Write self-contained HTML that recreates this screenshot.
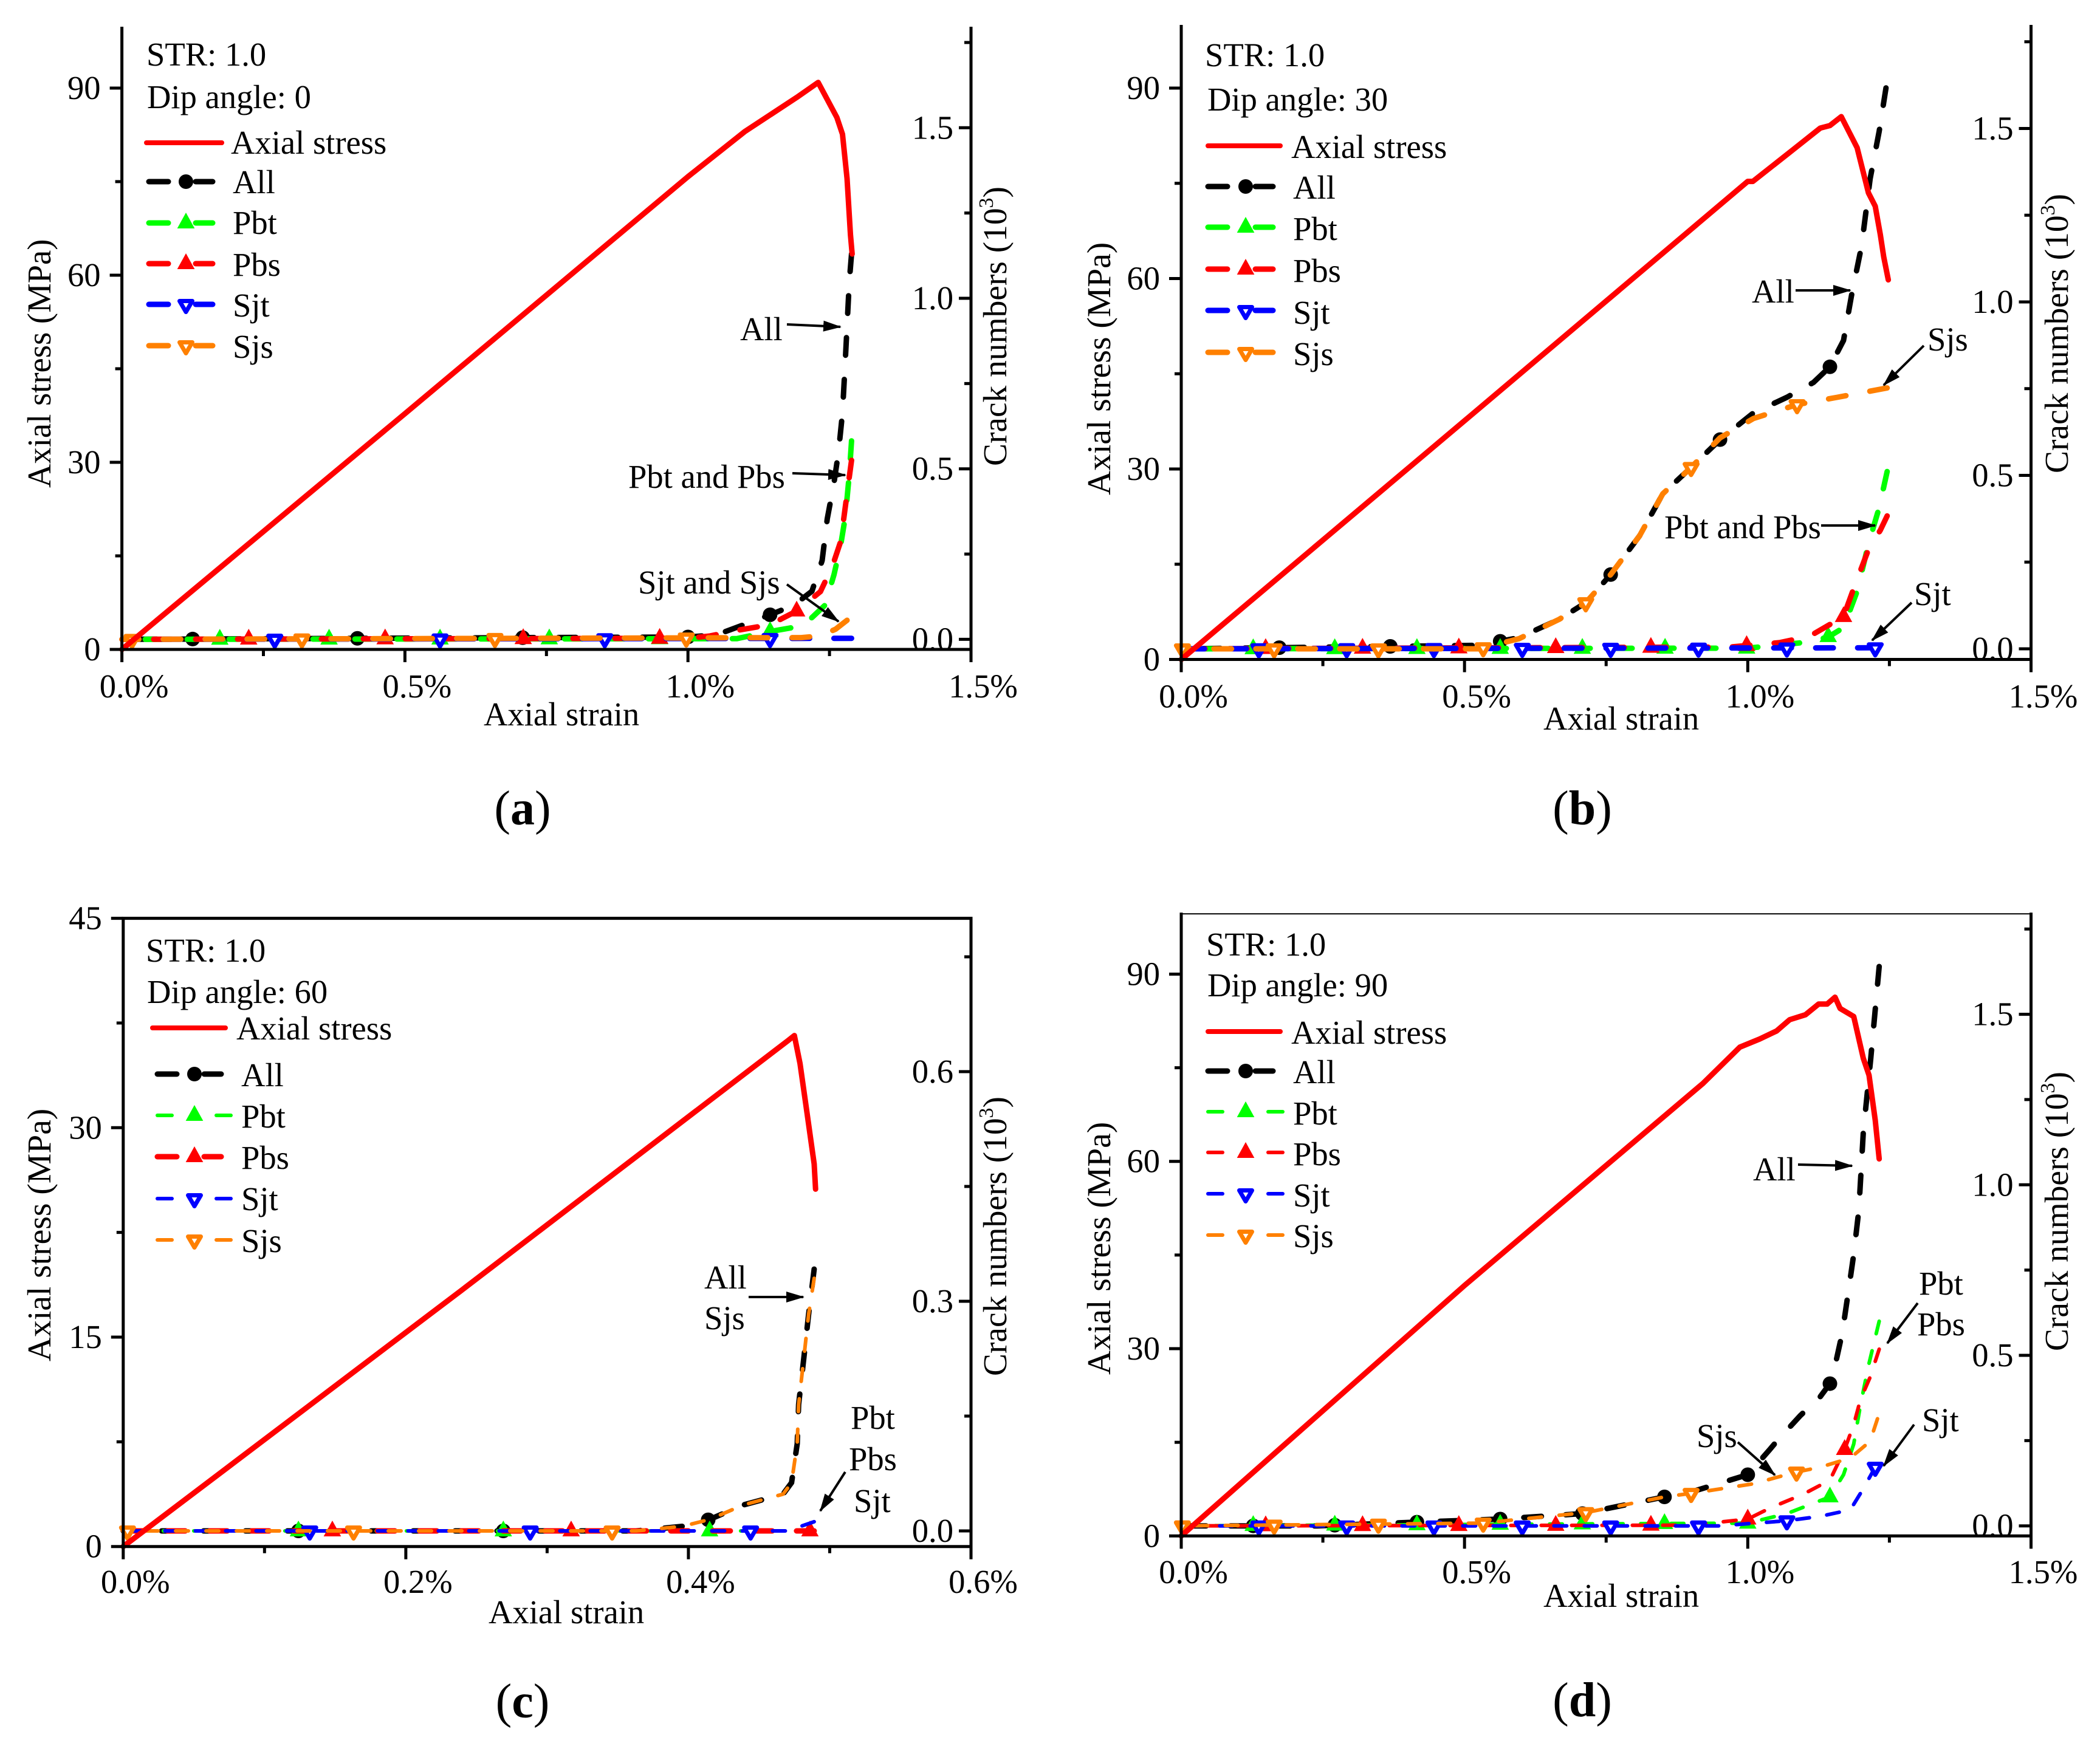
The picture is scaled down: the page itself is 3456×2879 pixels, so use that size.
<!DOCTYPE html>
<html lang="en">
<head>
<meta charset="utf-8">
<title>Axial stress and crack numbers versus axial strain</title>
<style>
html,body{margin:0;padding:0;background:#fff}
svg{display:block}
text{font-family:"Liberation Serif",serif;font-size:54.6px;fill:#000}
.letter{font-size:80px}
.letter .b{font-weight:bold}
.lt{font-size:55.5px}
.rt{font-size:55.4px}
.ann{stroke:#000;stroke-width:4;fill:none;marker-end:url(#arrow-head)}
</style>
</head>
<body>
<svg id="chart" xmlns="http://www.w3.org/2000/svg" width="3456" height="2879" viewBox="0 0 3456 2879">
<defs>
<marker id="arrow-head" markerUnits="userSpaceOnUse" markerWidth="32" markerHeight="20" refX="28" refY="9" orient="auto"><path d="M0 0L30 9L0 18Z" fill="#000"/></marker>
</defs>
<rect width="3456" height="2879" fill="#fff"/>
<g id="plots"></g>

<g>
<text x="241" y="108">STR: 1.0</text>
<text x="242" y="178">Dip angle: 0</text>
<text x="380" y="253">Axial stress</text>
<text x="383" y="318">All</text>
<text x="383" y="385">Pbt</text>
<text x="383" y="454">Pbs</text>
<text x="383" y="521">Sjt</text>
<text x="383" y="589">Sjs</text>
<text x="796" y="1194">Axial strain</text>
<text transform="translate(83,803) rotate(-90)">Axial stress (MPa)</text>
<text class="rt" transform="translate(1656,767) rotate(-90)">Crack numbers (10<tspan font-size="34" dy="-22">3</tspan><tspan dy="22">)</tspan></text>
<text class="letter" x="860" y="1357" text-anchor="middle">(<tspan class="b">a</tspan>)</text>
<text x="1218" y="560">All</text>
<line class="ann" x1="1295" y1="534" x2="1383" y2="538"/>
<text x="1034" y="803">Pbt and Pbs</text>
<line class="ann" x1="1304" y1="779" x2="1391" y2="782"/>
<text x="1050" y="977">Sjt and Sjs</text>
<line class="ann" x1="1295" y1="962" x2="1380" y2="1023"/>
</g>

<g>
<text x="1983" y="109">STR: 1.0</text>
<text x="1987" y="182">Dip angle: 30</text>
<text x="2125" y="260">Axial stress</text>
<text x="2128" y="327">All</text>
<text x="2128" y="395">Pbt</text>
<text x="2128" y="464">Pbs</text>
<text x="2128" y="533">Sjt</text>
<text x="2128" y="601">Sjs</text>
<text x="2540" y="1201">Axial strain</text>
<text class="lt" transform="translate(1827,815) rotate(-90)">Axial stress (MPa)</text>
<text class="rt" transform="translate(3403,779) rotate(-90)">Crack numbers (10<tspan font-size="34" dy="-22">3</tspan><tspan dy="22">)</tspan></text>
<text class="letter" x="2604" y="1357" text-anchor="middle">(<tspan class="b">b</tspan>)</text>
<text x="2883" y="498">All</text>
<line class="ann" x1="2955" y1="478" x2="3045" y2="478"/>
<text x="3172" y="577">Sjs</text>
<line class="ann" x1="3166" y1="569" x2="3100" y2="634"/>
<text x="2739" y="886">Pbt and Pbs</text>
<line class="ann" x1="2997" y1="865" x2="3086" y2="865"/>
<text x="3150" y="996">Sjt</text>
<line class="ann" x1="3146" y1="992" x2="3081" y2="1054"/>
</g>

<g>
<text x="240" y="1583">STR: 1.0</text>
<text x="242" y="1651">Dip angle: 60</text>
<text x="389" y="1711">Axial stress</text>
<text x="397" y="1788">All</text>
<text x="397" y="1856">Pbt</text>
<text x="397" y="1924">Pbs</text>
<text x="397" y="1992">Sjt</text>
<text x="397" y="2061">Sjs</text>
<text x="804" y="2672">Axial strain</text>
<text class="lt" transform="translate(83,2241) rotate(-90)">Axial stress (MPa)</text>
<text class="rt" transform="translate(1656,2265) rotate(-90)">Crack numbers (10<tspan font-size="34" dy="-22">3</tspan><tspan dy="22">)</tspan></text>
<text class="letter" x="860" y="2827" text-anchor="middle">(<tspan class="b">c</tspan>)</text>
<text x="1159" y="2121">All</text>
<text x="1159" y="2188">Sjs</text>
<line class="ann" x1="1232" y1="2135" x2="1322" y2="2135"/>
<text x="1400" y="2352">Pbt</text>
<text x="1397" y="2420">Pbs</text>
<text x="1405" y="2489">Sjt</text>
<line class="ann" x1="1391" y1="2423" x2="1350" y2="2487"/>
</g>

<g>
<text x="1985" y="1573">STR: 1.0</text>
<text x="1987" y="1640">Dip angle: 90</text>
<text x="2125" y="1718">Axial stress</text>
<text x="2128" y="1783">All</text>
<text x="2128" y="1851">Pbt</text>
<text x="2128" y="1918">Pbs</text>
<text x="2128" y="1986">Sjt</text>
<text x="2128" y="2053">Sjs</text>
<text x="2540" y="2645">Axial strain</text>
<text class="lt" transform="translate(1827,2263) rotate(-90)">Axial stress (MPa)</text>
<text class="rt" transform="translate(3403,2224) rotate(-90)">Crack numbers (10<tspan font-size="34" dy="-22">3</tspan><tspan dy="22">)</tspan></text>
<text class="letter" x="2604" y="2825" text-anchor="middle">(<tspan class="b">d</tspan>)</text>
<text x="2885" y="1943">All</text>
<line class="ann" x1="2959" y1="1917" x2="3048" y2="1919"/>
<text x="3158" y="2131">Pbt</text>
<text x="3155" y="2198">Pbs</text>
<line class="ann" x1="3156" y1="2145" x2="3106" y2="2211"/>
<text x="3163" y="2356">Sjt</text>
<line class="ann" x1="3150" y1="2345" x2="3100" y2="2413"/>
<text x="2792" y="2382">Sjs</text>
<line class="ann" x1="2860" y1="2374" x2="2921" y2="2428"/>
</g>
</svg>

<script>
/* ---------- tick values and labels ---------- */
const strainTicks = [0, 0.5, 1, 1.5];
const strainTickLabels = ["0.0%", "0.5%", "1.0%", "1.5%"];
const strainMinor = [0.25, 0.75, 1.25];
const stressTicks = [0, 30, 60, 90];
const stressTickLabels = ["0", "30", "60", "90"];
const stressMinor = [15, 45, 75];
const crackTicks = [0, 0.5, 1, 1.5];
const crackTickLabels = ["0.0", "0.5", "1.0", "1.5"];
const crackMinor = [0.25, 0.75, 1.25, 1.75];
const cStrainTicks = [0, 0.2, 0.4, 0.6];
const cStrainTickLabels = ["0.0%", "0.2%", "0.4%", "0.6%"];
const cStrainMinor = [0.1, 0.3, 0.5];
const cStressTicks = [0, 15, 30, 45];
const cStressTickLabels = ["0", "15", "30", "45"];
const cStressMinor = [7.5, 22.5, 37.5];
const cCrackTicks = [0, 0.3, 0.6];
const cCrackTickLabels = ["0.0", "0.3", "0.6"];
const cCrackMinor = [0.15, 0.45, 0.75];

/* ---------- panel a: dip angle 0 ---------- */
const aStressStrain = [0, 0.5, 1.0, 1.039, 1.1, 1.192, 1.23, 1.263, 1.273, 1.281, 1.287, 1.29];
const aStress = [0, 37.8, 75.8, 78.6, 83, 88.5, 90.9, 85.3, 82.6, 75.5, 66.5, 63.4];
const aAllStrain = [0, 1.0, 1.05, 1.104, 1.145, 1.187, 1.219, 1.237, 1.246, 1.258, 1.266, 1.273, 1.278, 1.285, 1.289];
const aAll = [0, 0.007, 0.013, 0.046, 0.072, 0.1, 0.141, 0.231, 0.353, 0.46, 0.55, 0.664, 0.82, 1.049, 1.13];
const aPbtStrain = [0, 1.086, 1.145, 1.204, 1.242, 1.258, 1.27, 1.278, 1.285, 1.289];
const aPbt = [0, 0.002, 0.023, 0.04, 0.1, 0.19, 0.278, 0.36, 0.484, 0.582];
const aPbsStrain = [0, 1.0, 1.039, 1.086, 1.145, 1.192, 1.234, 1.255, 1.27, 1.281, 1.289];
const aPbs = [0, 0.003, 0.01, 0.026, 0.043, 0.083, 0.14, 0.214, 0.288, 0.427, 0.525];
const aSjtStrain = [0, 1.289];
const aSjt = [0, 0.003];
const aSjsStrain = [0, 1.2, 1.234, 1.261, 1.281];
const aSjs = [0, 0.005, 0.01, 0.03, 0.056];
const aAllMarks = [0.125, 0.416, 0.708, 1.0, 1.145];
const aPbtMarks = [0.173, 0.366, 0.562, 0.755, 0.95, 1.145];
const aPbsMarks = [0.224, 0.465, 0.709, 0.95, 1.192];
const aSjtMarks = [0.27, 0.562, 0.853, 1.145];
const aSjsMarks = [0.018, 0.318, 0.659, 0.997];

/* ---------- panel b: dip angle 30 ---------- */
const bStressStrain = [0, 0.5, 1.0, 1.009, 1.08, 1.128, 1.145, 1.165, 1.193, 1.213, 1.225, 1.234, 1.24, 1.248];
const bStress = [0, 37.6, 75.3, 75.3, 80.3, 83.7, 84.1, 85.5, 80.6, 73.5, 71.4, 66.9, 63.4, 59.8];
const bAllStrain = [0, 0.525, 0.596, 0.667, 0.714, 0.758, 0.809, 0.85, 0.9, 0.951, 1.01, 1.069, 1.116, 1.145, 1.169, 1.183, 1.201, 1.216, 1.232, 1.244];
const bAll = [0, 0.01, 0.032, 0.085, 0.133, 0.214, 0.326, 0.447, 0.523, 0.603, 0.68, 0.725, 0.768, 0.813, 0.889, 1.018, 1.162, 1.355, 1.492, 1.617];
const bPbtStrain = [0, 1.0, 1.116, 1.145, 1.169, 1.193, 1.213, 1.232, 1.246];
const bPbt = [0, 0.002, 0.021, 0.037, 0.061, 0.166, 0.302, 0.407, 0.511];
const bPbsStrain = [0, 0.968, 1.057, 1.11, 1.169, 1.187, 1.213, 1.234, 1.246];
const bPbs = [0, 0.005, 0.018, 0.037, 0.093, 0.174, 0.286, 0.342, 0.383];
const bSjtStrain = [0, 1.225];
const bSjt = [0, 0.003];
const bSjsStrain = [0, 0.525, 0.596, 0.667, 0.714, 0.758, 0.809, 0.85, 0.9, 0.951, 1.01, 1.087, 1.158, 1.246];
const bSjs = [0, 0, 0.029, 0.085, 0.133, 0.214, 0.326, 0.447, 0.523, 0.608, 0.664, 0.704, 0.725, 0.752];
const bAllMarks = [0.173, 0.369, 0.563, 0.758, 0.951, 1.145];
const bPbtMarks = [0.127, 0.271, 0.416, 0.563, 0.708, 0.854, 0.998, 1.142];
const bPbsMarks = [0.149, 0.32, 0.49, 0.661, 0.829, 0.998, 1.169];
const bSjtMarks = [0.137, 0.292, 0.446, 0.602, 0.758, 0.913, 1.069, 1.225];
const bSjsMarks = [0.002, 0.164, 0.348, 0.533, 0.714, 0.9, 1.087];

/* ---------- panel c: dip angle 60 ---------- */
const cStressStrain = [0, 0.24, 0.47, 0.475, 0.479, 0.484, 0.489, 0.49];
const cStress = [0, 18.4, 36.2, 36.6, 34.6, 31, 27.4, 25.6];
const cAllStrain = [0, 0.363, 0.396, 0.415, 0.439, 0.467, 0.473, 0.477, 0.478, 0.482, 0.485, 0.489];
const cAll = [0, 0, 0.006, 0.015, 0.034, 0.048, 0.063, 0.114, 0.165, 0.231, 0.282, 0.342];
const cPbtStrain = [0, 0.489];
const cPbt = [0, 0];
const cPbsStrain = [0, 0.489];
const cPbs = [0, 0];
const cSjtStrain = [0, 0.47, 0.489];
const cSjt = [0, 0, 0.012];
const cSjsStrain = [0, 0.363, 0.396, 0.415, 0.439, 0.467, 0.473, 0.477, 0.478, 0.482, 0.485, 0.489];
const cSjs = [0, 0, 0.006, 0.015, 0.034, 0.048, 0.063, 0.114, 0.165, 0.231, 0.282, 0.33];
const cAllMarks = [0.124, 0.269, 0.414];
const cPbtMarks = [0.124, 0.269, 0.415];
const cPbsMarks = [0.148, 0.317, 0.486];
const cSjtMarks = [0.132, 0.288, 0.444];
const cSjsMarks = [0.003, 0.163, 0.346];

/* ---------- panel d: dip angle 90 ---------- */
const dStressStrain = [0, 0.501, 0.921, 0.986, 1.021, 1.051, 1.074, 1.102, 1.125, 1.14, 1.154, 1.163, 1.187, 1.204, 1.214, 1.225, 1.232];
const dStress = [0, 40.2, 72.5, 78.3, 79.6, 80.9, 82.7, 83.5, 85.2, 85.2, 86.3, 84.5, 83.2, 76.5, 73.8, 66.6, 60.4];
const dAllStrain = [0, 0.24, 0.563, 0.708, 0.853, 0.903, 1.0, 1.039, 1.051, 1.092, 1.128, 1.145, 1.154, 1.167, 1.177, 1.187, 1.196, 1.204, 1.217, 1.226, 1.232];
const dAll = [0, 0, 0.02, 0.036, 0.085, 0.101, 0.15, 0.224, 0.248, 0.322, 0.379, 0.417, 0.469, 0.567, 0.681, 0.796, 0.926, 1.155, 1.368, 1.531, 1.64];
const dPbtStrain = [0, 1.0, 1.069, 1.145, 1.169, 1.187, 1.199, 1.213, 1.232];
const dPbt = [0, 0.008, 0.036, 0.085, 0.15, 0.24, 0.355, 0.469, 0.6];
const dPbsStrain = [0, 0.9, 1.0, 1.039, 1.098, 1.145, 1.171, 1.187, 1.199, 1.216, 1.232];
const dPbs = [0, 0.002, 0.02, 0.052, 0.093, 0.134, 0.224, 0.297, 0.371, 0.436, 0.518];
const dSjtStrain = [0, 0.95, 1.069, 1.128, 1.181, 1.204, 1.225];
const dSjt = [0, 0, 0.015, 0.028, 0.047, 0.109, 0.172];
const dSjsStrain = [0, 0.531, 0.714, 0.853, 0.903, 1.009, 1.086, 1.128, 1.181, 1.216, 1.229];
const dSjs = [0, 0.008, 0.039, 0.085, 0.096, 0.123, 0.158, 0.172, 0.199, 0.248, 0.314];
const dAllMarks = [0.127, 0.271, 0.416, 0.563, 0.708, 0.853, 1.0, 1.145];
const dPbtMarks = [0.127, 0.271, 0.416, 0.563, 0.708, 0.853, 1.0, 1.145];
const dPbsMarks = [0.149, 0.32, 0.49, 0.661, 0.829, 1.0, 1.171];
const dSjtMarks = [0.137, 0.292, 0.446, 0.602, 0.758, 0.913, 1.069, 1.225];
const dSjsMarks = [0.002, 0.164, 0.348, 0.533, 0.714, 0.9, 1.086];

/* ---------- drawing ---------- */
const NS = "http://www.w3.org/2000/svg";
const root = document.getElementById("plots");
const COLORS = { all: "#000000", pbt: "#00ff00", pbs: "#ff0000", sjt: "#0000ff", sjs: "#ff8000" };
const SHAPES = { all: "circle", pbt: "up", pbs: "up", sjt: "down", sjs: "down" };
const KEYS = ["all", "pbt", "pbs", "sjt", "sjs"];

function make(tag, parent) {
  const el = document.createElementNS(NS, tag);
  parent.appendChild(el);
  return el;
}
function interp(xs, ys, v) {
  if (v <= xs[0]) return ys[0];
  for (let i = 1; i < xs.length; i++) {
    if (v <= xs[i]) return ys[i - 1] + (ys[i] - ys[i - 1]) * (v - xs[i - 1]) / (xs[i] - xs[i - 1]);
  }
  return ys[ys.length - 1];
}
function segment(parent, x1, y1, x2, y2, width, color, name, cap) {
  const el = make("line", parent);
  el.setAttribute("x1", x1);
  el.setAttribute("y1", y1);
  el.setAttribute("x2", x2);
  el.setAttribute("y2", y2);
  el.setAttribute("stroke", color);
  el.setAttribute("stroke-width", width);
  el.setAttribute("stroke-linecap", cap || "butt");
  
  
  return el;
}
function label(parent, x, y, anchor, content, name) {
  const el = make("text", parent);
  el.setAttribute("x", x);
  el.setAttribute("y", y);
  el.setAttribute("text-anchor", anchor);
  el.textContent = content;
  
  
}
function marker(parent, key, cx, cy, name) {
  let el;
  if (SHAPES[key] === "circle") {
    el = make("circle", parent);
    el.setAttribute("cx", cx);
    el.setAttribute("cy", cy);
    el.setAttribute("r", 12);
    el.setAttribute("fill", COLORS[key]);
  } else if (SHAPES[key] === "up") {
    el = make("polygon", parent);
    el.setAttribute("points", [cx, cy - 16, cx + 13.5, cy + 8.5, cx - 13.5, cy + 8.5].join(" "));
    el.setAttribute("fill", COLORS[key]);
    el.setAttribute("stroke", COLORS[key]);
    el.setAttribute("stroke-width", 1);
  } else {
    el = make("polygon", parent);
    el.setAttribute("points", [cx - 10.5, cy - 5.5, cx + 10.5, cy - 5.5, cx, cy + 12.5].join(" "));
    el.setAttribute("fill", "#ffffff");
    el.setAttribute("stroke", COLORS[key]);
    el.setAttribute("stroke-width", 7);
    el.setAttribute("stroke-linejoin", "round");
  }
  
  
}

const panels = [
  { id: "a", x0: 200.6, x1: 1598, xMax: 1.5, y0: 1069, top: 46, stressUnit: 10.267, crack0: 1052.4, crackUnit: 561.4,
    frame: 0, tickBase: 1148, strain: [strainTicks, strainTickLabels, strainMinor], stress: [stressTicks, stressTickLabels, stressMinor], crack: [crackTicks, crackTickLabels, crackMinor],
    thick: { all: 1, pbt: 1, pbs: 1, sjt: 1, sjs: 1 },
    legendLine: [241, 365, 235], legendX: [245, 306, 350], legendY: [299, 367, 434, 501, 569],
    stressX: aStressStrain, stressY: aStress,
    series: { all: [aAllStrain, aAll, aAllMarks], pbt: [aPbtStrain, aPbt, aPbtMarks], pbs: [aPbsStrain, aPbs, aPbsMarks], sjt: [aSjtStrain, aSjt, aSjtMarks], sjs: [aSjsStrain, aSjs, aSjsMarks] } },
  { id: "b", x0: 1944, x1: 3342.5, xMax: 1.5, y0: 1085.5, top: 43, stressUnit: 10.45, crack0: 1068, crackUnit: 571,
    frame: 0, tickBase: 1164.5, strain: [strainTicks, strainTickLabels, strainMinor], stress: [stressTicks, stressTickLabels, stressMinor], crack: [crackTicks, crackTickLabels, crackMinor],
    thick: { all: 1, pbt: 1, pbs: 1, sjt: 1, sjs: 1 },
    legendLine: [1988, 2107, 240], legendX: [1988, 2050, 2095], legendY: [307, 374, 443, 511, 580],
    stressX: bStressStrain, stressY: bStress,
    series: { all: [bAllStrain, bAll, bAllMarks], pbt: [bPbtStrain, bPbt, bPbtMarks], pbs: [bPbsStrain, bPbs, bPbsMarks], sjt: [bSjtStrain, bSjt, bSjtMarks], sjs: [bSjsStrain, bSjs, bSjsMarks] } },
  { id: "c", x0: 202.8, x1: 1598, xMax: 0.6, y0: 2545.7, top: 1511.6, stressUnit: 22.98, crack0: 2520, crackUnit: 1260,
    frame: 5, tickBase: 2622, strain: [cStrainTicks, cStrainTickLabels, cStrainMinor], stress: [cStressTicks, cStressTickLabels, cStressMinor], crack: [cCrackTicks, cCrackTickLabels, cCrackMinor],
    thick: { all: 1, pbt: 0, pbs: 1, sjt: 0, sjs: 0 },
    legendLine: [251, 371, 1692], legendX: [259, 320, 364], legendY: [1768, 1836, 1904, 1973, 2041],
    stressX: cStressStrain, stressY: cStress,
    series: { all: [cAllStrain, cAll, cAllMarks], pbt: [cPbtStrain, cPbt, cPbtMarks], pbs: [cPbsStrain, cPbs, cPbsMarks], sjt: [cSjtStrain, cSjt, cSjtMarks], sjs: [cSjsStrain, cSjs, cSjsMarks] } },
  { id: "d", x0: 1944, x1: 3342.5, xMax: 1.5, y0: 2528.3, top: 1504.3, stressUnit: 10.276, crack0: 2511.7, crackUnit: 561.4,
    frame: 2, tickBase: 2606, strain: [strainTicks, strainTickLabels, strainMinor], stress: [stressTicks, stressTickLabels, stressMinor], crack: [crackTicks, crackTickLabels, crackMinor],
    thick: { all: 1, pbt: 0, pbs: 0, sjt: 0, sjs: 0 },
    legendLine: [1988, 2107, 1698], legendX: [1988, 2050, 2095], legendY: [1763, 1830, 1897, 1965, 2033],
    stressX: dStressStrain, stressY: dStress,
    series: { all: [dAllStrain, dAll, dAllMarks], pbt: [dPbtStrain, dPbt, dPbtMarks], pbs: [dPbsStrain, dPbs, dPbsMarks], sjt: [dSjtStrain, dSjt, dSjtMarks], sjs: [dSjsStrain, dSjs, dSjsMarks] } }
];

panels.forEach(function (p) {
  const xAxis = function (v) { return p.x0 + (p.x1 - p.x0) * v / p.xMax; };
  const yStress = function (v) { return p.y0 - p.stressUnit * v; };
  const yCrack = function (v) { return p.crack0 - p.crackUnit * v; };

  const g = make("g", root);
  
  

  /* series lines and markers */
  KEYS.forEach(function (key) {
    const s = p.series[key];
    const pts = s[0].map(function (v, i) { return xAxis(v).toFixed(1) + "," + yCrack(s[1][i]).toFixed(1); }).join(" ");
    const dash = p.thick[key] ? 29 : 21;
    const gap = p.thick[key] ? 40 : 29;
    const line = make("polyline", g);
    line.setAttribute("points", pts);
    line.setAttribute("fill", "none");
    line.setAttribute("stroke", COLORS[key]);
    line.setAttribute("stroke-width", p.thick[key] ? 9 : 6);
    line.setAttribute("stroke-linecap", "round");
    line.setAttribute("stroke-linejoin", "round");
    line.setAttribute("stroke-dasharray", dash + " " + gap);
    /* align the dash pattern so every series ends on a visible dash */
    const period = dash + gap;
    const total = line.getTotalLength();
    line.setAttribute("stroke-dashoffset", (((dash - total) % period) + period) % period);
    
    
    s[2].forEach(function (m) {
      marker(g, key, xAxis(m), yCrack(interp(s[0], s[1], m)), p.id + "-marker-" + key);
    });
  });

  /* axial stress line */
  const stressLine = make("polyline", g);
  stressLine.setAttribute("points", p.stressX.map(function (v, i) { return xAxis(v).toFixed(1) + "," + yStress(p.stressY[i]).toFixed(1); }).join(" "));
  stressLine.setAttribute("fill", "none");
  stressLine.setAttribute("stroke", "#ff0000");
  stressLine.setAttribute("stroke-width", 9);
  stressLine.setAttribute("stroke-linejoin", "round");
  stressLine.setAttribute("stroke-linecap", "round");
  
  

  /* axes */
  segment(g, p.x0, p.top - 2, p.x0, p.y0 + 2.5, 5, "#000", p.id + "-left-axis");
  segment(g, p.x1, p.top - 2, p.x1, p.y0 + 2.5, 5, "#000", p.id + "-right-axis");
  segment(g, p.x0 - 2.5, p.y0, p.x1 + 2.5, p.y0, 5, "#000", p.id + "-bottom-axis");
  if (p.frame) {
    segment(g, p.x0 - 2.5, p.top, p.x1 + 2.5, p.top, p.frame, "#000", p.id + "-top-axis");
  }

  p.strain[0].forEach(function (v, i) {
    segment(g, xAxis(v), p.y0, xAxis(v), p.y0 + 21, 5, "#000", p.id + "-x-tick");
    label(g, xAxis(v) + 20, p.tickBase, "middle", p.strain[1][i], p.id + "-x-tick-label");
  });
  p.strain[2].forEach(function (v) {
    segment(g, xAxis(v), p.y0, xAxis(v), p.y0 + 11, 5, "#000", p.id + "-x-minor-tick");
  });
  p.stress[0].forEach(function (v, i) {
    segment(g, p.x0 - 20, yStress(v), p.x0, yStress(v), 5, "#000", p.id + "-left-tick");
    label(g, p.x0 - 35, yStress(v) + 18, "end", p.stress[1][i], p.id + "-left-tick-label");
  });
  p.stress[2].forEach(function (v) {
    segment(g, p.x0 - 11, yStress(v), p.x0, yStress(v), 5, "#000", p.id + "-left-minor-tick");
  });
  p.crack[0].forEach(function (v, i) {
    segment(g, p.x1 - 20, yCrack(v), p.x1, yCrack(v), 5, "#000", p.id + "-right-tick");
    label(g, p.x1 - 29, yCrack(v) + 18, "end", p.crack[1][i], p.id + "-right-tick-label");
  });
  p.crack[2].forEach(function (v) {
    segment(g, p.x1 - 11, yCrack(v), p.x1, yCrack(v), 5, "#000", p.id + "-right-minor-tick");
  });

  /* legend keys */
  segment(g, p.legendLine[0], p.legendLine[2], p.legendLine[1], p.legendLine[2], 8, "#ff0000", p.id + "-legend-key-axial-stress", "round");
  KEYS.forEach(function (key, i) {
    const ly = p.legendY[i];
    const lx = p.legendX;
    const w = p.thick[key] ? 9 : 6;
    const leftEnd = p.thick[key] ? lx[0] + 32 : lx[0] + 24;
    const rightStart = p.thick[key] ? lx[1] + 16 : lx[2] - 8;
    const rightEnd = p.thick[key] ? lx[2] : lx[2] + 16;
    segment(g, lx[0], ly, leftEnd, ly, w, COLORS[key], p.id + "-legend-key-" + key, "round");
    segment(g, rightStart, ly, rightEnd, ly, w, COLORS[key], p.id + "-legend-key-" + key, "round");
    marker(g, key, lx[1], ly, p.id + "-legend-marker-" + key);
  });
});
</script>
</body>
</html>
